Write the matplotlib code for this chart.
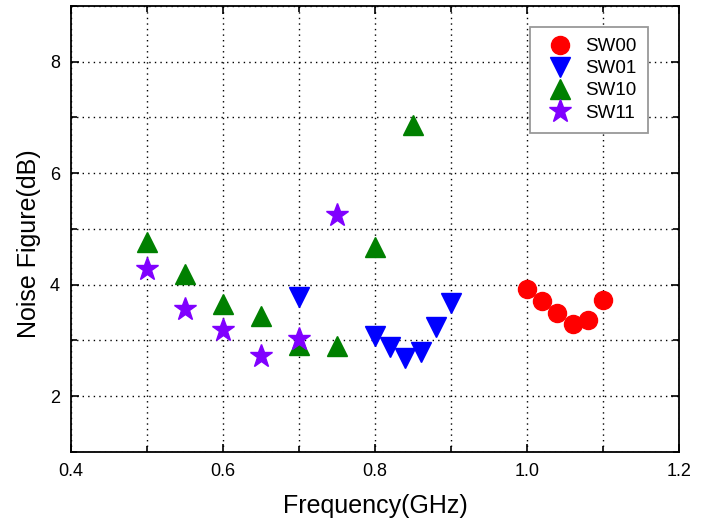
import matplotlib.pyplot as plt
from matplotlib.ticker import MultipleLocator

plt.rcParams['font.family'] = ['Liberation Sans', 'DejaVu Sans']

# data
freq_sw00 = [1.00, 1.02, 1.04, 1.06, 1.08, 1.10]
nf_sw00 = [3.93, 3.71, 3.50, 3.30, 3.37, 3.73]

freq_sw01 = [0.70, 0.80, 0.82, 0.84, 0.86, 0.88, 0.90]
nf_sw01 = [3.78, 3.08, 2.88, 2.68, 2.79, 3.24, 3.68]

freq_sw10 = [0.50, 0.55, 0.60, 0.65, 0.70, 0.75, 0.80, 0.85]
nf_sw10 = [4.77, 4.20, 3.66, 3.44, 2.91, 2.90, 4.68, 6.87]

freq_sw11 = [0.50, 0.55, 0.60, 0.65, 0.70, 0.75]
nf_sw11 = [4.29, 3.57, 3.19, 2.73, 3.03, 5.25]

fig = plt.figure(figsize=(7.11, 5.25), dpi=100)
ax = fig.add_axes([0.0999, 0.139, 0.855, 0.85])

ax.plot(freq_sw00, nf_sw00, 'o', color='#ff0000', markersize=13, linestyle='none', label='SW00')
ax.plot(freq_sw01, nf_sw01, 'v', color='#0000ff', markersize=15, linestyle='none', label='SW01')
ax.plot(freq_sw10, nf_sw10, '^', color='#008000', markersize=15, linestyle='none', label='SW10')
ax.plot(freq_sw11, nf_sw11, '*', color='#8000ff', markersize=17, linestyle='none', label='SW11')

ax.set_xlim(0.4, 1.2)
ax.set_ylim(1, 9)
ax.xaxis.set_major_locator(MultipleLocator(0.2))
ax.xaxis.set_minor_locator(MultipleLocator(0.1))
ax.yaxis.set_major_locator(MultipleLocator(2))
ax.yaxis.set_minor_locator(MultipleLocator(1))
ax.set_xticks([0.4, 0.6, 0.8, 1.0, 1.2], ['0.4', '0.6', '0.8', '1.0', '1.2'])
ax.set_yticks([2, 4, 6, 8], ['2', '4', '6', '8'])

ax.grid(which='both', color='black', linestyle=(0, (1, 3)), linewidth=1.0)
ax.set_axisbelow(True)
ax.tick_params(which='both', direction='in', top=True, right=True, labelsize=13, width=1.2)
ax.tick_params(which='major', length=6, pad=8)
ax.tick_params(which='minor', length=4)
for sp in ax.spines.values():
    sp.set_linewidth(1.3)

ax.set_xlabel('Frequency(GHz)', fontsize=18, labelpad=10)
ax.set_ylabel('Noise Figure(dB)', fontsize=18, labelpad=6)
ax.yaxis.label.set_y(0.466)

leg = ax.legend(loc='upper right', bbox_to_anchor=(0.949, 0.953), fontsize=13.5,
                fancybox=False, edgecolor='#999999', framealpha=1, borderaxespad=0,
                handlelength=2.0, handletextpad=0.35, borderpad=0.6, labelspacing=0.27)
leg.get_frame().set_linewidth(1.3)

plt.savefig('out.png')
